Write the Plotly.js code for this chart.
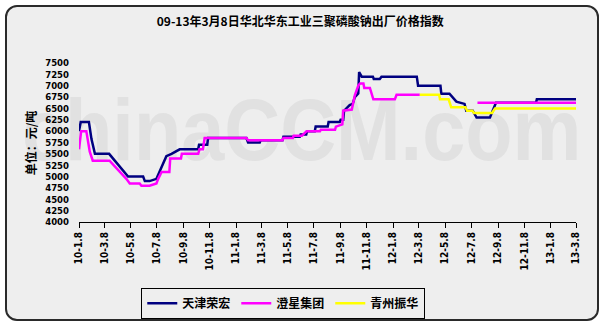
<!DOCTYPE html>
<html>
<head>
<meta charset="utf-8">
<script src="https://cdn.plot.ly/plotly-3.0.1.min.js"></script>
<style>
  html, body { margin:0; padding:0; background:#ffffff; }
  #wrap { position:relative; width:604px; height:329px; overflow:hidden; }
  #frame { position:absolute; left:5px; top:5px; width:590px; height:312px;
           border:2px solid #2a2a2a; border-radius:12px; background:#eeeeee; }
  #wm { position:absolute; left:22px; top:86px; font-family:'Liberation Sans', Arial, sans-serif;
        font-weight:bold; font-size:88px; line-height:88px; color:#e1e1e1; white-space:nowrap;
        transform:scaleX(0.88); transform-origin:0 0; }
  #chart { position:absolute; left:0; top:0; width:604px; height:329px; }
</style>
</head>
<body>
<div id="wrap">
  <div id="frame"></div>
  <div id="wm">chinaCCM.com</div>
  <div id="chart"></div>
</div>
<script>
// ---- data ----
const titleText = '09-13年3月8日华北华东工业三聚磷酸钠出厂价格指数';
const yTitle = '单位：元/吨';
const seriesNames = ['天津荣宏', '澄星集团', '青州振华'];

const tickDates = ['2010-01-08','2010-03-08','2010-05-08','2010-07-08','2010-09-08','2010-11-08',
  '2011-01-08','2011-03-08','2011-05-08','2011-07-08','2011-09-08','2011-11-08',
  '2012-01-08','2012-03-08','2012-05-08','2012-07-08','2012-09-08','2012-11-08',
  '2013-01-08','2013-03-08'];
const tickLabels = ['10-1.8','10-3.8','10-5.8','10-7.8','10-9.8','10-11.8',
  '11-1.8','11-3.8','11-5.8','11-7.8','11-9.8','11-11.8',
  '12-1.8','12-3.8','12-5.8','12-7.8','12-9.8','12-11.8',
  '13-1.8','13-3.8'];

const tjDates = ['2010-01-08','2010-01-12','2010-01-31','2010-02-06','2010-02-14','2010-03-19',
  '2010-05-02','2010-06-06','2010-06-10','2010-06-21','2010-07-07','2010-07-22','2010-07-30',
  '2010-08-11','2010-08-30','2010-10-12','2010-10-14','2010-11-02','2010-11-04','2011-02-01',
  '2011-02-05','2011-03-04','2011-03-06','2011-04-26','2011-04-28','2011-06-05','2011-06-07',
  '2011-06-20','2011-06-22','2011-07-10','2011-07-12','2011-08-09','2011-08-11','2011-09-06',
  '2011-09-08','2011-09-14','2011-09-16','2011-09-29','2011-10-06','2011-10-11','2011-10-19',
  '2011-10-21','2011-10-27','2011-11-22','2011-11-24','2011-12-08','2011-12-12','2012-03-03',
  '2012-03-06','2012-04-27','2012-04-29','2012-05-18','2012-06-03','2012-06-22','2012-06-26',
  '2012-07-11','2012-07-20','2012-08-20','2012-08-27','2012-09-03','2012-12-05','2012-12-07',
  '2013-03-08'];
const tjValues = [6000,6200,6200,5825,5500,5500,
  5000,5000,4900,4900,4950,5300,5450,
  5500,5600,5600,5700,5700,5850,5850,
  5750,5750,5800,5800,5875,5875,5925,
  5925,6000,6000,6100,6100,6200,6200,
  6250,6250,6450,6575,6600,6750,6830,
  7300,7200,7200,7150,7150,7200,7200,
  7000,7000,6825,6825,6650,6600,6450,
  6450,6300,6300,6450,6625,6625,6700,
  6700];

const cxDates = ['2010-01-08','2010-01-13','2010-01-25','2010-02-02','2010-02-09','2010-03-20',
  '2010-04-28','2010-05-06','2010-05-29','2010-06-02','2010-06-21','2010-07-07','2010-07-11',
  '2010-07-19','2010-08-06','2010-08-08','2010-09-02','2010-09-04','2010-10-12','2010-10-15',
  '2010-10-23','2010-10-27','2011-02-01','2011-02-05','2011-04-26','2011-04-28','2011-05-20',
  '2011-05-22','2011-06-10','2011-06-16','2011-06-21','2011-07-22','2011-07-24','2011-08-26',
  '2011-08-28','2011-09-12','2011-09-14','2011-10-04','2011-10-11','2011-10-19','2011-10-23',
  '2011-10-31','2011-11-02','2011-11-15','2011-11-23','2012-01-12','2012-01-16','2012-03-10',
  '2012-05-15','2012-07-22','2013-03-08'];
const cxValues = [5600,6000,6000,5550,5350,5350,
  4950,4850,4850,4800,4800,4850,4950,
  5100,5100,5400,5400,5500,5500,5600,
  5600,5850,5850,5800,5800,5850,5850,
  5900,5900,5950,6000,6000,6030,6030,
  6100,6150,6450,6475,6790,7000,7050,
  7050,6950,6950,6700,6700,6800,6800,
  null,6625,6625];

const qzDates = ['2012-03-10','2012-04-24','2012-04-26','2012-05-16','2012-05-22','2012-06-24',
  '2012-06-28','2012-07-10','2012-07-14','2012-08-25','2012-09-01','2013-03-08'];
const qzValues = [6800,6800,6700,6700,6525,6525,
  6450,6450,6400,6400,6500,6500];

const colors = ['#000080', '#ff00ff', '#ffff00'];

// ---- chart ----
const boldTick = {family:'DejaVu Sans Condensed, DejaVu Sans, Arial', size:10, color:'#000', weight:'bold'};
const cjk = {family:'Noto Sans CJK SC, sans-serif', size:12, color:'#000', weight:'bold'};

const traces = [
  {x:tjDates, y:tjValues, name:seriesNames[0], type:'scatter', mode:'lines', line:{color:colors[0], width:2.5}},
  {x:cxDates, y:cxValues, name:seriesNames[1], type:'scatter', mode:'lines', connectgaps:false, line:{color:colors[1], width:2.5}},
  {x:qzDates, y:qzValues, name:seriesNames[2], type:'scatter', mode:'lines', line:{color:colors[2], width:2.5}}
];

const layout = {
  width:604, height:329,
  margin:{l:79, r:28, t:63, b:106},
  paper_bgcolor:'rgba(0,0,0,0)', plot_bgcolor:'rgba(0,0,0,0)',
  showlegend:true,
  title:{text:titleText, font:cjk, x:0.497, xref:'container', xanchor:'center', y:0.935, yref:'container', yanchor:'middle'},
  xaxis:{type:'date', range:['2010-01-08','2013-03-08'], tickmode:'array', tickvals:tickDates, ticktext:tickLabels,
    tickangle:-90, tickfont:boldTick, showgrid:false, zeroline:false, showline:true, linecolor:'#000', linewidth:1,
    ticks:'outside', ticklen:5, tickcolor:'#000', tickwidth:1},
  yaxis:{range:[4000,7500], tick0:4000, dtick:250, showgrid:false, zeroline:false, showline:false, ticks:'',
    tickfont:{family:'DejaVu Sans Condensed, DejaVu Sans, Arial', size:9.5, color:'#000', weight:'bold'},
    ticklabelstandoff:9},
  legend:{orientation:'h', x:0.411, xanchor:'center', y:-0.405, yanchor:'top', bgcolor:'rgba(0,0,0,0)',
    bordercolor:'#000', borderwidth:1, font:cjk, itemwidth:30, tracegroupgap:0,
    entrywidth:49, entrywidthmode:'pixels'},
  annotations:[{text:yTitle, xref:'paper', yref:'paper', x:-0.097, y:0.5, textangle:-90, showarrow:false,
    font:cjk, xanchor:'center', yanchor:'middle'}]
};

Plotly.newPlot('chart', traces, layout, {displayModeBar:false, staticPlot:true});
</script>
</body>
</html>
